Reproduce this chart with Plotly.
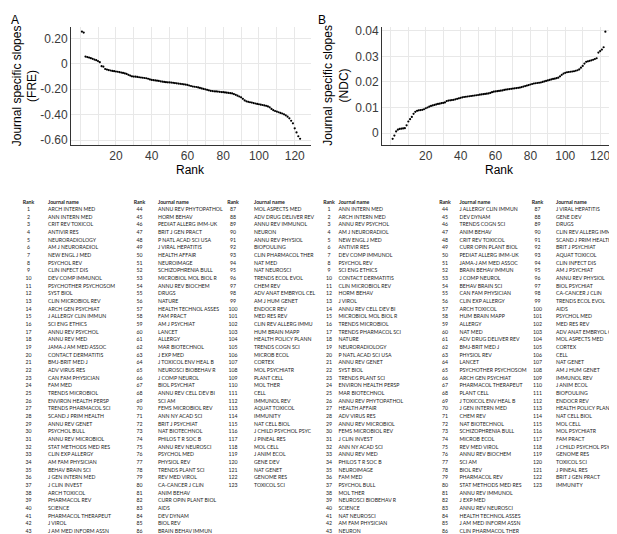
import plotly.graph_objects as go

W, H = 617, 534

ranks = list(range(1, 124))

journals_fre = [
    "ARCH INTERN MED", "ANN INTERN MED", "CRIT REV TOXICOL", "ANTIVIR RES", "NEURORADIOLOGY",
    "AM J NEURORADIOL", "NEW ENGL J MED", "PSYCHOL REV", "CLIN INFECT DIS", "DEV COMP IMMUNOL",
    "PSYCHOTHER PSYCHOSOM", "SYST BIOL", "CLIN MICROBIOL REV", "ARCH GEN PSYCHIAT", "J ALLERGY CLIN IMMUN",
    "SCI ENG ETHICS", "ANNU REV PSYCHOL", "ANNU REV MED", "JAMA-J AM MED ASSOC", "CONTACT DERMATITIS",
    "BMJ-BRIT MED J", "ADV VIRUS RES", "CAN FAM PHYSICIAN", "FAM MED", "TRENDS MICROBIOL",
    "ENVIRON HEALTH PERSP", "TRENDS PHARMACOL SCI", "SCAND J PRIM HEALTH", "ANNU REV GENET", "PSYCHOL BULL",
    "ANNU REV MICROBIOL", "STAT METHODS MED RES", "CLIN EXP ALLERGY", "AM FAM PHYSICIAN", "BEHAV BRAIN SCI",
    "J GEN INTERN MED", "J CLIN INVEST", "ARCH TOXICOL", "PHARMACOL REV", "SCIENCE",
    "PHARMACOL THERAPEUT", "J VIROL", "J AM MED INFORM ASSN", "ANNU REV PHYTOPATHOL", "HORM BEHAV",
    "PEDIAT ALLERG IMM-UK", "BRIT J GEN PRACT", "P NATL ACAD SCI USA", "J VIRAL HEPATITIS", "HEALTH AFFAIR",
    "NEUROIMAGE", "SCHIZOPHRENIA BULL", "MICROBIOL MOL BIOL R", "ANNU REV BIOCHEM", "DRUGS",
    "NATURE", "HEALTH TECHNOL ASSES", "FAM PRACT", "AM J PSYCHIAT", "LANCET",
    "ALLERGY", "MAR BIOTECHNOL", "J EXP MED", "J TOXICOL ENV HEAL B", "NEUROSCI BIOBEHAV R",
    "J COMP NEUROL", "BIOL PSYCHIAT", "ANNU REV CELL DEV BI", "SCI AM", "FEMS MICROBIOL REV",
    "ANN NY ACAD SCI", "BRIT J PSYCHIAT", "NAT BIOTECHNOL", "PHILOS T R SOC B", "ANNU REV NEUROSCI",
    "PSYCHOL MED", "PHYSIOL REV", "TRENDS PLANT SCI", "REV MED VIROL", "CA-CANCER J CLIN",
    "ANIM BEHAV", "CURR OPIN PLANT BIOL", "AIDS", "DEV DYNAM", "BIOL REV",
    "BRAIN BEHAV IMMUN", "MOL ASPECTS MED", "ADV DRUG DELIVER REV", "ANNU REV IMMUNOL", "NEURON",
    "ANNU REV PHYSIOL", "BIOFOULING", "CLIN PHARMACOL THER", "NAT MED", "NAT NEUROSCI",
    "TRENDS ECOL EVOL", "CHEM REV", "ADV ANAT EMBRYOL CEL", "AM J HUM GENET", "ENDOCR REV",
    "MED RES REV", "CLIN REV ALLERG IMMU", "HUM BRAIN MAPP", "HEALTH POLICY PLANN", "TRENDS COGN SCI",
    "MICROB ECOL", "CORTEX", "MOL PSYCHIATR", "PLANT CELL", "MOL THER",
    "CELL", "IMMUNOL REV", "AQUAT TOXICOL", "IMMUNITY", "NAT CELL BIOL",
    "J CHILD PSYCHOL PSYC", "J PINEAL RES", "MOL CELL", "J ANIM ECOL", "GENE DEV",
    "NAT GENET", "GENOME RES", "TOXICOL SCI",
]

journals_ndc = [
    "ANN INTERN MED", "ARCH INTERN MED", "ANNU REV PSYCHOL", "AM J NEURORADIOL", "NEW ENGL J MED",
    "ANTIVIR RES", "DEV COMP IMMUNOL", "PSYCHOL REV", "SCI ENG ETHICS", "CONTACT DERMATITIS",
    "CLIN MICROBIOL REV", "HORM BEHAV", "J VIROL", "ANNU REV CELL DEV BI", "MICROBIOL MOL BIOL R",
    "TRENDS MICROBIOL", "TRENDS PHARMACOL SCI", "NATURE", "NEURORADIOLOGY", "P NATL ACAD SCI USA",
    "ANNU REV GENET", "SYST BIOL", "TRENDS PLANT SCI", "ENVIRON HEALTH PERSP", "MAR BIOTECHNOL",
    "ANNU REV PHYTOPATHOL", "HEALTH AFFAIR", "ADV VIRUS RES", "ANNU REV MICROBIOL", "FEMS MICROBIOL REV",
    "J CLIN INVEST", "ANN NY ACAD SCI", "ANNU REV MED", "PHILOS T R SOC B", "NEUROIMAGE",
    "FAM MED", "PSYCHOL BULL", "MOL THER", "NEUROSCI BIOBEHAV R", "SCIENCE",
    "NAT NEUROSCI", "AM FAM PHYSICIAN", "NEURON", "J ALLERGY CLIN IMMUN", "DEV DYNAM",
    "TRENDS COGN SCI", "ANIM BEHAV", "CRIT REV TOXICOL", "CURR OPIN PLANT BIOL", "PEDIAT ALLERG IMM-UK",
    "JAMA-J AM MED ASSOC", "BRAIN BEHAV IMMUN", "J COMP NEUROL", "BEHAV BRAIN SCI", "CAN FAM PHYSICIAN",
    "CLIN EXP ALLERGY", "ARCH TOXICOL", "HUM BRAIN MAPP", "ALLERGY", "NAT MED",
    "ADV DRUG DELIVER REV", "BMJ-BRIT MED J", "PHYSIOL REV", "LANCET", "PSYCHOTHER PSYCHOSOM",
    "ARCH GEN PSYCHIAT", "PHARMACOL THERAPEUT", "PLANT CELL", "J TOXICOL ENV HEAL B", "J GEN INTERN MED",
    "CHEM REV", "NAT BIOTECHNOL", "SCHIZOPHRENIA BULL", "MICROB ECOL", "REV MED VIROL",
    "ANNU REV BIOCHEM", "SCI AM", "BIOL REV", "PHARMACOL REV", "STAT METHODS MED RES",
    "ANNU REV IMMUNOL", "J EXP MED", "ANNU REV NEUROSCI", "HEALTH TECHNOL ASSES", "J AM MED INFORM ASSN",
    "CLIN PHARMACOL THER", "J VIRAL HEPATITIS", "GENE DEV", "DRUGS", "CLIN REV ALLERG IMMU",
    "SCAND J PRIM HEALTH", "BRIT J PSYCHIAT", "AQUAT TOXICOL", "CLIN INFECT DIS", "AM J PSYCHIAT",
    "ANNU REV PHYSIOL", "BIOL PSYCHIAT", "CA-CANCER J CLIN", "TRENDS ECOL EVOL", "AIDS",
    "PSYCHOL MED", "MED RES REV", "ADV ANAT EMBRYOL CEL", "MOL ASPECTS MED", "CORTEX",
    "CELL", "NAT GENET", "AM J HUM GENET", "IMMUNOL REV", "J ANIM ECOL",
    "BIOFOULING", "ENDOCR REV", "HEALTH POLICY PLANN", "NAT CELL BIOL", "MOL CELL",
    "MOL PSYCHIATR", "FAM PRACT", "J CHILD PSYCHOL PSYC", "GENOME RES", "TOXICOL SCI",
    "J PINEAL RES", "BRIT J GEN PRACT", "IMMUNITY",
]

slopes_fre = [
    0.255, 0.247, 0.058, 0.054, 0.050, 0.045, 0.040, 0.034, 0.029, 0.022,
    0.014, -0.018, -0.022, -0.040, -0.045, -0.049, -0.052, -0.055, -0.057, -0.060,
    -0.062, -0.065, -0.068, -0.071, -0.075, -0.079, -0.086, -0.092, -0.098, -0.100,
    -0.101, -0.103, -0.105, -0.107, -0.109, -0.111, -0.113, -0.117, -0.122, -0.126,
    -0.128, -0.130, -0.132, -0.134, -0.137, -0.140, -0.142, -0.144, -0.145, -0.146,
    -0.147, -0.149, -0.151, -0.153, -0.155, -0.157, -0.159, -0.161, -0.163, -0.166,
    -0.170, -0.174, -0.178, -0.180, -0.182, -0.185, -0.189, -0.193, -0.197, -0.200,
    -0.204, -0.208, -0.212, -0.214, -0.216, -0.217, -0.218, -0.220, -0.222, -0.223,
    -0.225, -0.227, -0.229, -0.231, -0.233, -0.238, -0.244, -0.250, -0.257, -0.263,
    -0.275, -0.288, -0.295, -0.299, -0.302, -0.305, -0.309, -0.312, -0.315, -0.318,
    -0.321, -0.324, -0.327, -0.330, -0.335, -0.342, -0.355, -0.365, -0.371, -0.376,
    -0.381, -0.386, -0.391, -0.397, -0.405, -0.416, -0.429, -0.448, -0.468, -0.508,
    -0.540, -0.570, -0.590,
]

slopes_ndc = [
    -0.0023, -0.0010, 0.0006, 0.0013, 0.0016, 0.0017, 0.0018, 0.0019, 0.0030, 0.0045,
    0.0054, 0.0063, 0.0075, 0.0083, 0.0087, 0.0089, 0.0090, 0.0091, 0.0093, 0.0097,
    0.0100, 0.0103, 0.0106, 0.0108, 0.0110, 0.0112, 0.0114, 0.0115, 0.0117, 0.0118,
    0.0120, 0.0125, 0.0127, 0.0128, 0.0129, 0.0130, 0.0132, 0.0134, 0.0136, 0.0138,
    0.0140, 0.0141, 0.0142, 0.0143, 0.0144, 0.0145, 0.0146, 0.0147, 0.0148, 0.0149,
    0.0150, 0.0151, 0.0152, 0.0153, 0.0154, 0.0155, 0.0157, 0.0160, 0.0162, 0.0163,
    0.0164, 0.0165, 0.0166, 0.0167, 0.0169, 0.0170, 0.0171, 0.0172, 0.0173, 0.0174,
    0.0175, 0.0176, 0.0177, 0.0178, 0.0180, 0.0182, 0.0184, 0.0186, 0.0188, 0.0190,
    0.0192, 0.0194, 0.0195, 0.0196, 0.0197, 0.0198, 0.0200, 0.0202, 0.0204, 0.0206,
    0.0208, 0.0210, 0.0212, 0.0213, 0.0215, 0.0217, 0.0222, 0.0228, 0.0233, 0.0236,
    0.0238, 0.0239, 0.0240, 0.0241, 0.0242, 0.0244, 0.0246, 0.0249, 0.0256, 0.0263,
    0.0272, 0.0279, 0.0281, 0.0283, 0.0285, 0.0287, 0.0290, 0.0293, 0.0315, 0.0321,
    0.0327, 0.0336, 0.0397,
]

x_ticks = [20, 40, 60, 80, 100, 120]
x_minor = [0, 10, 30, 50, 70, 90, 110]
fre_ticks = [0.2, 0.0, -0.2, -0.4, -0.6]
fre_labels = ["0.20", "0", "-0.20", "-0.40", "-0.60"]
ndc_ticks = [0.0, 0.01, 0.02, 0.03, 0.04]
ndc_labels = ["0", "0.01", "0.02", "0.03", "0.04"]

# ---------------- layout constants (pixels) ----------------
PLOT_TOP, PLOT_BOT = 16, 135
A_L, A_R = 63, 303
B_L, B_R = 374, 608
ROW0, ROWH, HEAD_Y = 200.7, 7.74, 193.3
ROWS_PER_COL = 43
TAB_FONT = "Lato"
TAB_SIZE = 5.2
TAB_COLOR = "#222222"
# (rank center, name left) per column group
cols_A = [(20.5, 40), (131.5, 150), (225, 246)]
cols_B = [(321, 330.5), (437, 451.5), (529.5, 548)]

GRID = "#e8e8e8"
AXLINE = "#333333"
TICKFONT = dict(family="Liberation Sans, Arial, sans-serif", size=12, color="#3a3a3a")

fig = go.Figure()

fig.add_trace(go.Scatter(x=ranks, y=slopes_fre, mode="markers", xaxis="x", yaxis="y",
                         marker=dict(color="black", size=2.2), showlegend=False, hoverinfo="x+y"))
fig.add_trace(go.Scatter(x=ranks, y=slopes_ndc, mode="markers", xaxis="x2", yaxis="y2",
                         marker=dict(color="black", size=2.2), showlegend=False, hoverinfo="x+y"))


def add_table(names, cols):
    for g, (rc, nl) in enumerate(cols):
        sub_ranks = ranks[g * ROWS_PER_COL:(g + 1) * ROWS_PER_COL]
        sub_names = names[g * ROWS_PER_COL:(g + 1) * ROWS_PER_COL]
        ys = [ROW0 + (r - 1 - g * ROWS_PER_COL) * ROWH for r in sub_ranks]
        tf = dict(family=TAB_FONT, size=TAB_SIZE, color=TAB_COLOR)
        fig.add_trace(go.Scatter(x=[rc] * len(ys), y=ys, text=[str(r) for r in sub_ranks],
                                 mode="text", textposition="middle center", textfont=tf,
                                 xaxis="x3", yaxis="y3", showlegend=False, hoverinfo="skip"))
        fig.add_trace(go.Scatter(x=[nl] * len(ys), y=ys, text=sub_names,
                                 mode="text", textposition="middle right", textfont=tf,
                                 xaxis="x3", yaxis="y3", showlegend=False, hoverinfo="skip"))
        hf = dict(family=TAB_FONT, size=TAB_SIZE, color=TAB_COLOR, weight="bold")
        fig.add_trace(go.Scatter(x=[rc], y=[HEAD_Y], text=["Rank"], mode="text",
                                 textposition="middle center", textfont=hf,
                                 xaxis="x3", yaxis="y3", showlegend=False, hoverinfo="skip"))
        fig.add_trace(go.Scatter(x=[nl], y=[HEAD_Y], text=["Journal name"], mode="text",
                                 textposition="middle right", textfont=hf,
                                 xaxis="x3", yaxis="y3", showlegend=False, hoverinfo="skip"))


add_table(journals_fre, cols_A)
add_table(journals_ndc, cols_B)


def xax(l, r):
    return dict(domain=[l / W, r / W], range=[-5.1, 129.1], tickmode="array", tickvals=x_ticks,
                showgrid=True, gridcolor=GRID, gridwidth=1, zeroline=False,
                showline=True, linecolor=AXLINE, linewidth=1, ticks="", tickfont=TICKFONT,
                minor=dict(tickmode="array", tickvals=x_minor, showgrid=True, gridcolor=GRID, gridwidth=1),
                fixedrange=True)


def yax(rng, tv, tt, anchor):
    return dict(domain=[1 - PLOT_BOT / H, 1 - PLOT_TOP / H], range=rng, tickmode="array",
                tickvals=tv, ticktext=tt, showgrid=True, gridcolor=GRID, gridwidth=1,
                zeroline=False, showline=True, linecolor=AXLINE, linewidth=1, ticks="",
                tickfont=TICKFONT, anchor=anchor, fixedrange=True)


fig.update_layout(
    width=W, height=H,
    margin=dict(l=0, r=0, t=0, b=0),
    paper_bgcolor="white", plot_bgcolor="rgba(0,0,0,0)",
    showlegend=False,
    xaxis=dict(xax(A_L, A_R), anchor="y"),
    yaxis=yax([-0.637, 0.292], fre_ticks, fre_labels, "x"),
    xaxis2=dict(xax(B_L, B_R), anchor="y2"),
    yaxis2=yax([-0.0046, 0.0416], ndc_ticks, ndc_labels, "x2"),
    xaxis3=dict(domain=[0, 1], range=[0, W], visible=False, fixedrange=True, anchor="y3"),
    yaxis3=dict(domain=[0, 1], range=[H, 0], visible=False, fixedrange=True, anchor="x3"),
    font=dict(family="Liberation Sans, Arial, sans-serif", color="black"),
)

TITLE_FONT = dict(family="Liberation Sans, Arial, sans-serif", size=12, color="black")
annotations = [
    dict(text="A", x=1 / W, y=1 - 0 / H, xanchor="left", yanchor="top", font=TITLE_FONT),
    dict(text="B", x=308 / W, y=1 - 0 / H, xanchor="left", yanchor="top", font=TITLE_FONT),
    dict(text="Journal specific slopes<br>(FRE)", x=16.5 / W, y=1 - 75.5 / H, textangle=-90,
         xanchor="center", yanchor="middle", font=TITLE_FONT),
    dict(text="Journal specific slopes<br>(NDC)", x=328 / W, y=1 - 75.5 / H, textangle=-90,
         xanchor="center", yanchor="middle", font=TITLE_FONT),
    dict(text="Rank", x=(A_L + A_R) / 2 / W, y=1 - 160.7 / H, xanchor="center", yanchor="middle",
         font=TITLE_FONT),
    dict(text="Rank", x=(B_L + B_R) / 2 / W, y=1 - 160.7 / H, xanchor="center", yanchor="middle",
         font=TITLE_FONT),
]
for a in annotations:
    a.update(xref="paper", yref="paper", showarrow=False)
fig.update_layout(annotations=annotations)

fig.write_html("out.html")
